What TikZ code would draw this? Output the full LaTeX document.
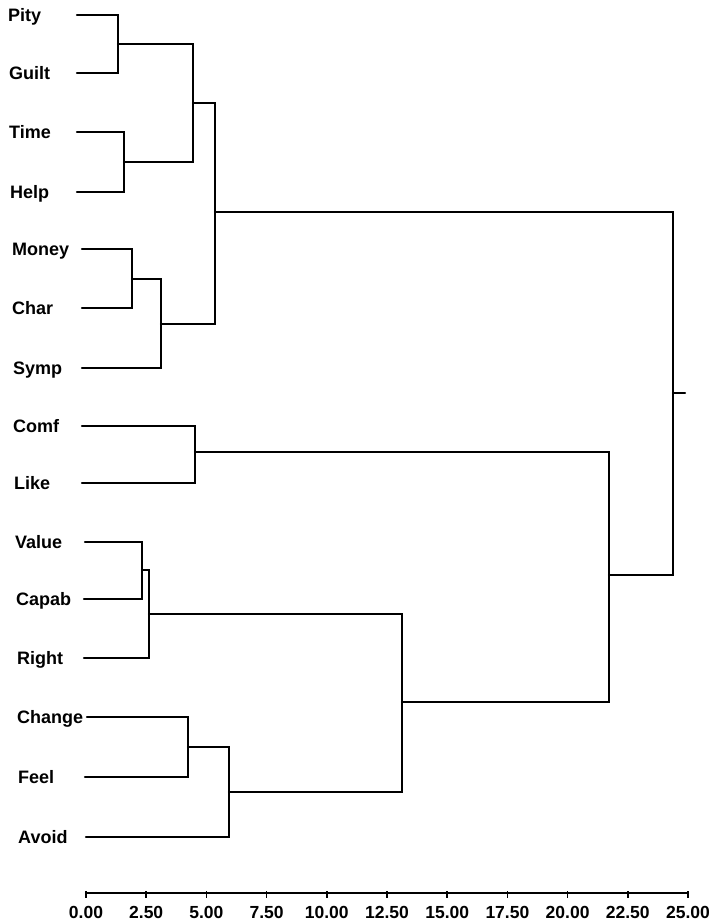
\documentclass[tikz,border=0pt]{standalone}
\usepackage{fontspec}
\setmainfont{Liberation Sans}
\usetikzlibrary{calc}
\begin{document}
\begin{tikzpicture}[x=1pt,y=-1pt,
  link/.style={line width=2.2pt,line cap=round,line join=miter},
  leaflabel/.style={anchor=base west,inner sep=0pt,font=\fontsize{18}{20}\selectfont\bfseries},
  ticklabel/.style={anchor=base,inner sep=0pt,font=\fontsize{17.5}{20}\selectfont\bfseries}]
\useasboundingbox (0,0) rectangle (715,923);
% labels
\foreach \nm/\txt/\lx/\ly in {lpity/Pity/8/15, lguilt/Guilt/9/73, ltime/Time/9/132, lhelp/Help/10/192,
  lmoney/Money/12/249, lchar/Char/12/308, lsymp/Symp/13/368, lcomf/Comf/13/426, llike/Like/14/483,
  lvalue/Value/15/542, lcapab/Capab/16/599, lright/Right/17/658, lchange/Change/17/717,
  lfeel/Feel/18/777, lavoid/Avoid/18/837}
  \node[leaflabel] (\nm) at (\lx,\ly+6.5) {\txt};
% leaf start points
\coordinate (pity) at (77,15);
\coordinate (guilt) at (77,73);
\coordinate (time) at (77,132);
\coordinate (help) at (77,192);
\coordinate (money) at (82,249);
\coordinate (char) at (82,308);
\coordinate (symp) at (82,368);
\coordinate (comf) at (82,426);
\coordinate (like) at (82,483);
\coordinate (value) at (85,542);
\coordinate (capab) at (84,599);
\coordinate (right) at (84,658);
\coordinate (change) at (87,717);
\coordinate (feel) at (85,777);
\coordinate (avoid) at (86,837);
% merge points
\coordinate (mPG) at (118,44);
\coordinate (mTH) at (124,162);
\coordinate (mPGTH) at (193,103);
\coordinate (mMC) at (132,279);
\coordinate (mMCS) at (161,324);
\coordinate (mA) at (215,212);
\coordinate (mCL) at (195,452);
\coordinate (mVC) at (142,570);
\coordinate (mVCR) at (149,614);
\coordinate (mCF) at (188,747);
\coordinate (mCFA) at (229,792);
\coordinate (mVCRCFA) at (402,702);
\coordinate (mB) at (609,575);
\coordinate (root) at (673,393);
\coordinate (rootend) at (685,393);
% links
\draw[link] (pity) -| (mPG) |- (guilt);
\draw[link] (time) -| (mTH) |- (help);
\draw[link] (mPG) -| (mPGTH) |- (mTH);
\draw[link] (money) -| (mMC) |- (char);
\draw[link] (mMC) -| (mMCS) |- (symp);
\draw[link] (mPGTH) -| (mA) |- (mMCS);
\draw[link] (comf) -| (mCL) |- (like);
\draw[link] (value) -| (mVC) |- (capab);
\draw[link] (mVC) -| (mVCR) |- (right);
\draw[link] (change) -| (mCF) |- (feel);
\draw[link] (mCF) -| (mCFA) |- (avoid);
\draw[link] (mVCR) -| (mVCRCFA) |- (mCFA);
\draw[link] (mCL) -| (mB) |- (mVCRCFA);
\draw[link] (mA) -| (root) |- (mB);
\draw[link] (root) -- (rootend);
% axis
\coordinate (ax0) at (86,893);
\coordinate (ax1) at (688,893);
\draw[link] (ax0) -- (ax1);
\foreach \v/\t [count=\i] in {0/0.00,2.5/2.50,5/5.00,7.5/7.50,10/10.00,12.5/12.50,15/15.00,17.5/17.50,20/20.00,22.5/22.50,25/25.00}{
  \coordinate (tk\i) at ($(ax0)!\v/25!(ax1)$);
  \draw[line width=1.6pt] ([yshift=2pt]tk\i) -- ([yshift=-5pt]tk\i);
  \node[ticklabel] (tl\i) at ([yshift=-25pt]tk\i) {\t};
}
\end{tikzpicture}
\end{document}
